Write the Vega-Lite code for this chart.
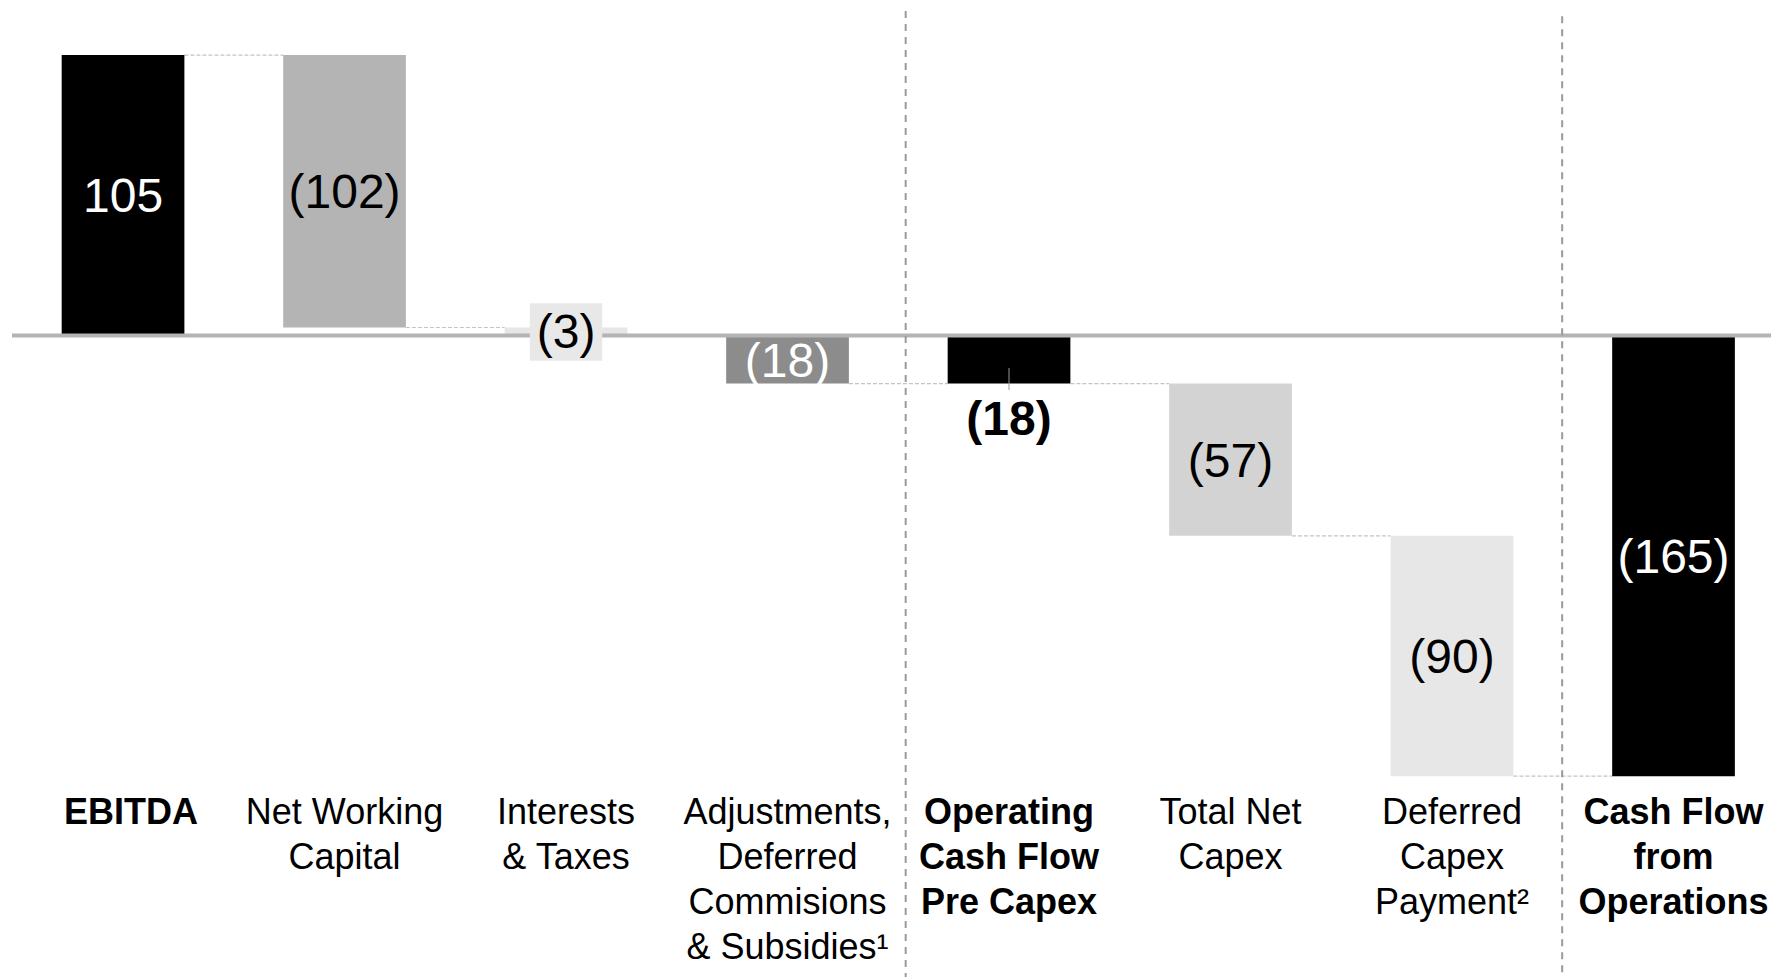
{
  "$schema": "https://vega.github.io/schema/vega-lite/v6.json",
  "width": 1759,
  "height": 977,
  "padding": {"left": 12, "right": 0, "top": 0, "bottom": 0},
  "autosize": {"type": "none"},
  "background": "white",
  "config": {"view": {"stroke": null}, "font": "Liberation Sans"},
  "datasets": {
    "steps": [
      {"key": "EBITDA", "lines": ["EBITDA"], "kind": "total", "start": 0, "end": 105, "label": "105"},
      {"key": "NWC", "lines": ["Net Working", "Capital"], "kind": "delta", "start": 105, "end": 3, "label": "(102)"},
      {"key": "IT", "lines": ["Interests", "& Taxes"], "kind": "delta", "start": 3, "end": 0, "label": "(3)"},
      {"key": "ADJ", "lines": ["Adjustments,", "Deferred", "Commisions", "& Subsidies¹"], "kind": "delta", "start": 0, "end": -18, "label": "(18)"},
      {"key": "OCF", "lines": ["Operating", "Cash Flow", "Pre Capex"], "kind": "total", "start": 0, "end": -18, "label": "(18)"},
      {"key": "TNC", "lines": ["Total Net", "Capex"], "kind": "delta", "start": -18, "end": -75, "label": "(57)"},
      {"key": "DCP", "lines": ["Deferred", "Capex", "Payment²"], "kind": "delta", "start": -75, "end": -165, "label": "(90)"},
      {"key": "CFO", "lines": ["Cash Flow", "from", "Operations"], "kind": "total", "start": 0, "end": -165, "label": "(165)"}
    ],
    "links": [
      {"from": "EBITDA", "to": "NWC", "level": 105},
      {"from": "NWC", "to": "IT", "level": 3},
      {"from": "IT", "to": "ADJ", "level": 0},
      {"from": "ADJ", "to": "OCF", "level": -18},
      {"from": "OCF", "to": "TNC", "level": -18},
      {"from": "TNC", "to": "DCP", "level": -75},
      {"from": "DCP", "to": "CFO", "level": -165}
    ]
  },
  "layer": [
    {
      "data": {"name": "links"},
      "mark": {"type": "rule", "color": "#c4c4c4", "strokeWidth": 1.2, "strokeDash": [4, 2], "xOffset": 61.4, "x2Offset": -61.4},
      "encoding": {
        "x": {"field": "from", "type": "nominal", "bandPosition": 0.5, "scale": {"domain": ["EBITDA", "NWC", "IT", "ADJ", "OCF", "TNC", "DCP", "CFO"], "paddingInner": 0.446, "paddingOuter": 0.1937, "align": 0.579}, "axis": null},
        "x2": {"field": "to"},
        "y": {"field": "level", "type": "quantitative", "scale": {"domain": [-240.17, 125.61], "nice": false, "zero": false}, "axis": null}
      }
    },
    {
      "data": {"name": "steps"},
      "mark": {"type": "bar"},
      "encoding": {
        "x": {"field": "key", "type": "nominal", "scale": {"domain": ["EBITDA", "NWC", "IT", "ADJ", "OCF", "TNC", "DCP", "CFO"], "paddingInner": 0.446, "paddingOuter": 0.1937, "align": 0.579}, "axis": null},
        "y": {"field": "start", "type": "quantitative", "scale": {"domain": [-240.17, 125.61], "nice": false, "zero": false}, "axis": null},
        "y2": {"field": "end"},
        "color": {"field": "key", "type": "nominal", "scale": {"domain": ["EBITDA", "NWC", "IT", "ADJ", "OCF", "TNC", "DCP", "CFO"], "range": ["#000000", "#b4b4b4", "#e6e6e6", "#8c8c8c", "#000000", "#d3d3d3", "#e7e7e7", "#000000"]}, "legend": null}
      }
    },
    {
      "data": {"values": [{}]},
      "mark": {"type": "rule", "color": "#b4b4b4", "strokeWidth": 4},
      "encoding": {
        "y": {"datum": 0, "type": "quantitative", "scale": {"domain": [-240.17, 125.61], "nice": false, "zero": false}, "axis": null}
      }
    },
    {
      "data": {"name": "steps"},
      "transform": [{"filter": "datum.key === 'OCF'"}],
      "mark": {"type": "rule", "color": "#9a9a9a", "strokeWidth": 2, "strokeDash": [7, 6], "xOffset": -42},
      "encoding": {
        "x": {"field": "key", "type": "nominal", "bandPosition": 0, "scale": {"domain": ["EBITDA", "NWC", "IT", "ADJ", "OCF", "TNC", "DCP", "CFO"], "paddingInner": 0.446, "paddingOuter": 0.1937, "align": 0.579}, "axis": null},
        "y": {"datum": 121.5, "type": "quantitative", "scale": {"domain": [-240.17, 125.61], "nice": false, "zero": false}, "axis": null},
        "y2": {"datum": -240.17}
      }
    },
    {
      "data": {"name": "steps"},
      "transform": [{"filter": "datum.key === 'CFO'"}],
      "mark": {"type": "rule", "color": "#9a9a9a", "strokeWidth": 2, "strokeDash": [7, 6], "xOffset": -50},
      "encoding": {
        "x": {"field": "key", "type": "nominal", "bandPosition": 0, "scale": {"domain": ["EBITDA", "NWC", "IT", "ADJ", "OCF", "TNC", "DCP", "CFO"], "paddingInner": 0.446, "paddingOuter": 0.1937, "align": 0.579}, "axis": null},
        "y": {"datum": 119.5, "type": "quantitative", "scale": {"domain": [-240.17, 125.61], "nice": false, "zero": false}, "axis": null},
        "y2": {"datum": -240.17}
      }
    },
    {
      "data": {"name": "steps"},
      "transform": [{"filter": "datum.key === 'IT'"}],
      "mark": {"type": "bar", "color": "#e8e8e8", "width": {"band": 0.59}},
      "encoding": {
        "x": {"field": "key", "type": "nominal", "scale": {"domain": ["EBITDA", "NWC", "IT", "ADJ", "OCF", "TNC", "DCP", "CFO"], "paddingInner": 0.446, "paddingOuter": 0.1937, "align": 0.579}, "axis": null},
        "y": {"datum": 12.05, "type": "quantitative", "scale": {"domain": [-240.17, 125.61], "nice": false, "zero": false}, "axis": null},
        "y2": {"datum": -9.43}
      }
    },
    {
      "data": {"name": "steps"},
      "transform": [{"filter": "datum.key === 'OCF'"}],
      "mark": {"type": "rule", "color": "#9a9a9a", "strokeWidth": 1},
      "encoding": {
        "x": {"field": "key", "type": "nominal", "scale": {"domain": ["EBITDA", "NWC", "IT", "ADJ", "OCF", "TNC", "DCP", "CFO"], "paddingInner": 0.446, "paddingOuter": 0.1937, "align": 0.579}, "axis": null},
        "y": {"datum": -12.2, "type": "quantitative", "scale": {"domain": [-240.17, 125.61], "nice": false, "zero": false}, "axis": null},
        "y2": {"datum": -20.4}
      }
    },
    {
      "data": {"name": "steps"},
      "transform": [
        {"filter": "datum.key !== 'OCF'"},
        {"calculate": "(datum.start + datum.end) / 2", "as": "mid"}
      ],
      "mark": {"type": "text", "fontSize": 48, "baseline": "middle", "align": "center", "dy": 3},
      "encoding": {
        "x": {"field": "key", "type": "nominal", "scale": {"domain": ["EBITDA", "NWC", "IT", "ADJ", "OCF", "TNC", "DCP", "CFO"], "paddingInner": 0.446, "paddingOuter": 0.1937, "align": 0.579}, "axis": null},
        "y": {"field": "mid", "type": "quantitative", "scale": {"domain": [-240.17, 125.61], "nice": false, "zero": false}, "axis": null},
        "text": {"field": "label"},
        "color": {"condition": {"test": "datum.key === 'EBITDA' || datum.key === 'ADJ' || datum.key === 'CFO'", "value": "#ffffff"}, "value": "#000000"}
      }
    },
    {
      "data": {"name": "steps"},
      "transform": [{"filter": "datum.key === 'OCF'"}],
      "mark": {"type": "text", "fontSize": 48, "fontWeight": "bold", "baseline": "middle", "align": "center", "dy": 37.5, "color": "#000000"},
      "encoding": {
        "x": {"field": "key", "type": "nominal", "scale": {"domain": ["EBITDA", "NWC", "IT", "ADJ", "OCF", "TNC", "DCP", "CFO"], "paddingInner": 0.446, "paddingOuter": 0.1937, "align": 0.579}, "axis": null},
        "y": {"field": "end", "type": "quantitative", "scale": {"domain": [-240.17, 125.61], "nice": false, "zero": false}, "axis": null},
        "text": {"field": "label"}
      }
    },
    {
      "data": {"name": "steps"},
      "transform": [{"filter": "datum.kind === 'delta'"}],
      "mark": {"type": "text", "fontSize": 36, "lineHeight": 45, "baseline": "alphabetic", "align": "center", "color": "#000000"},
      "encoding": {
        "x": {"field": "key", "type": "nominal", "scale": {"domain": ["EBITDA", "NWC", "IT", "ADJ", "OCF", "TNC", "DCP", "CFO"], "paddingInner": 0.446, "paddingOuter": 0.1937, "align": 0.579}, "axis": null},
        "y": {"datum": -183, "type": "quantitative", "scale": {"domain": [-240.17, 125.61], "nice": false, "zero": false}, "axis": null},
        "text": {"field": "lines"}
      }
    },
    {
      "data": {"name": "steps"},
      "transform": [{"filter": "datum.kind === 'total' && datum.key !== 'EBITDA'"}],
      "mark": {"type": "text", "fontSize": 36, "fontWeight": "bold", "lineHeight": 45, "baseline": "alphabetic", "align": "center", "color": "#000000"},
      "encoding": {
        "x": {"field": "key", "type": "nominal", "scale": {"domain": ["EBITDA", "NWC", "IT", "ADJ", "OCF", "TNC", "DCP", "CFO"], "paddingInner": 0.446, "paddingOuter": 0.1937, "align": 0.579}, "axis": null},
        "y": {"datum": -183, "type": "quantitative", "scale": {"domain": [-240.17, 125.61], "nice": false, "zero": false}, "axis": null},
        "text": {"field": "lines"}
      }
    },
    {
      "data": {"name": "steps"},
      "transform": [{"filter": "datum.key === 'EBITDA'"}],
      "mark": {"type": "text", "fontSize": 36, "fontWeight": "bold", "lineHeight": 45, "baseline": "alphabetic", "align": "center", "dx": 8, "color": "#000000"},
      "encoding": {
        "x": {"field": "key", "type": "nominal", "scale": {"domain": ["EBITDA", "NWC", "IT", "ADJ", "OCF", "TNC", "DCP", "CFO"], "paddingInner": 0.446, "paddingOuter": 0.1937, "align": 0.579}, "axis": null},
        "y": {"datum": -183, "type": "quantitative", "scale": {"domain": [-240.17, 125.61], "nice": false, "zero": false}, "axis": null},
        "text": {"field": "lines"}
      }
    }
  ]
}
